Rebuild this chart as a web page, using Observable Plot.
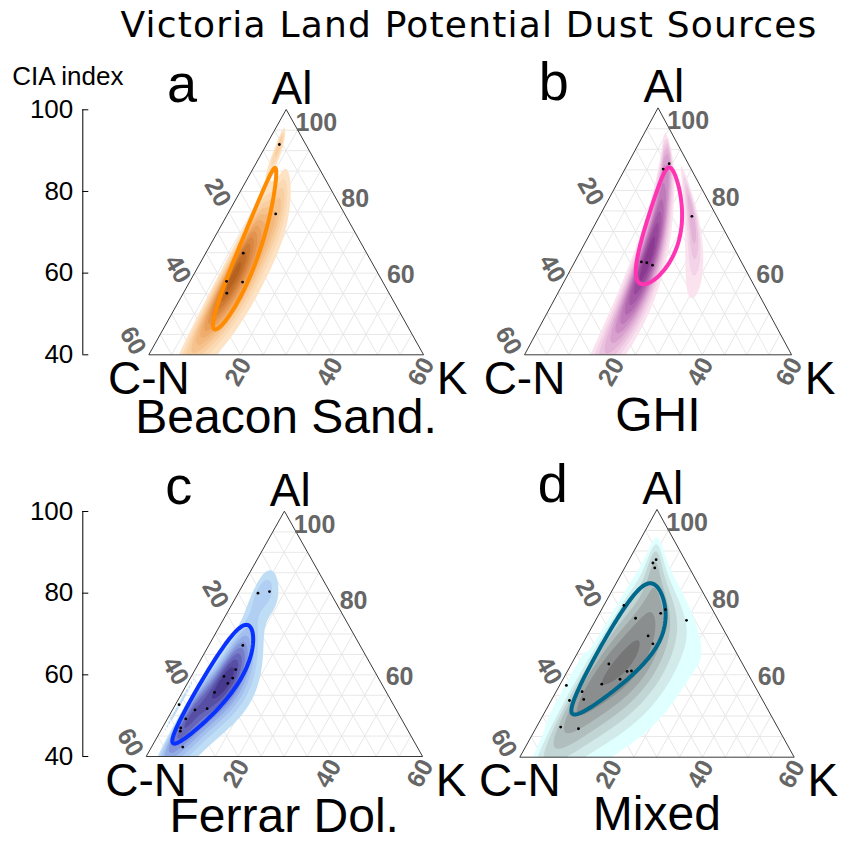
<!DOCTYPE html>
<html><head><meta charset="utf-8">
<script src="https://cdn.jsdelivr.net/npm/d3@7"></script>
<script src="https://cdn.jsdelivr.net/npm/@observablehq/plot@0.6"></script>
<style>
body{margin:0;background:#fff;}
#page{position:relative;width:843px;height:841px;overflow:hidden;background:#fff;}
#title{position:absolute;left:0;top:7px;width:938px;text-align:center;font-family:"DejaVu Sans",sans-serif;font-size:36px;line-height:36px;letter-spacing:1.2px;color:#000;white-space:nowrap;}
#page svg{position:absolute;left:0;top:0;}
</style></head><body>
<div id="page"><div id="title">Victoria Land Potential Dust Sources</div></div>
<script>
// ---------------- data (compositions in %, Al + C-N + K = 100) ----------------
const beaconAl = [91.5, 74.5, 64.9, 58.0, 57.8, 55.1];
const beaconCN = [5.7, 15.0, 26.9, 34.0, 30.6, 35.4];
const beaconK  = [2.8, 10.5, 8.2, 8.0, 11.6, 9.5];

const ghiAl = [86.5, 85.2, 73.7, 62.6, 62.4, 61.8];
const ghiCN = [4.2, 6.2, 5.5, 22.4, 21.3, 20.3];
const ghiK  = [9.3, 8.6, 20.8, 15.0, 16.3, 17.9];

const ferrarAl = [80.0, 80.4, 67.2, 61.3, 59.6, 59.2, 57.9, 55.7, 51.7, 51.4, 52.7, 49.2, 47.0, 46.2, 42.3];
const ferrarCN = [15.7, 13.0, 25.4, 29.9, 33.3, 31.6, 33.3, 37.3, 40.9, 43.7, 46.5, 46.8, 49.0, 49.5, 50.9];
const ferrarK  = [4.3, 6.6, 7.4, 8.8, 7.1, 9.2, 8.8, 7.0, 7.4, 4.9, 0.8, 4.0, 4.0, 4.3, 6.8];

const mixedAl = [87.1, 87.9, 85.9, 76.8, 75.8, 74.9, 73.7, 73.2, 69.4, 67.5, 62.6, 60.8, 60.9, 58.9, 57.7, 55.9, 57.4, 54.0, 53.75, 47.3, 46.9];
const mixedCN = [7.3, 6.2, 7.5, 18.8, 10.2, 11.7, 17.8, 6.9, 17.2, 17.1, 29.2, 26.1, 25.1, 28.6, 33.2, 38.4, 41.1, 39.0, 42.25, 47.4, 43.7];
const mixedK  = [5.6, 5.9, 6.6, 4.4, 14.0, 13.4, 8.5, 19.9, 13.4, 15.4, 8.2, 13.1, 14.0, 12.5, 9.1, 5.7, 1.5, 7.0, 4.0, 5.3, 9.4];

const panelNames   = ["Beacon Sand.", "GHI", "Ferrar Dol.", "Mixed"];
const panelLetters = ["a", "b", "c", "d"];
const vertexNames  = {top: "Al", left: "C-N", right: "K"};
const yAxisLabel = "CIA index";
const alTicks = [60, 80, 100];
const cnTicks = [20, 40, 60];
const kTicks  = [20, 40, 60];
const ciaTicks = [40, 60, 80, 100];
const gridSteps = [5, 10, 15, 20, 25, 30, 35, 40, 45, 50, 55];
const alMin = 40;            // zoomed ternary: Al 40-100, C-N 0-60, K 0-60
const confidenceLevel = 0.5; // ellipse in ilr space
const bandwidthScale = 1.1;

// ---------------- styles ----------------
const palettes = [
  {ramp: ["#fde3c4", "#f6bd82", "#e58f45", "#b5611f"], ellipse: "#ff8c00"},
  {ramp: ["#fae2ef", "#e3afd5", "#b66ab3", "#8a3a90"], ellipse: "#ff34b3"},
  {ramp: ["#bfdef6", "#9ab8ec", "#6f73c9", "#47398e"], ellipse: "#0a32ff"},
  {ramp: ["#e0ffff", "#c4d6d6", "#9ea6a6", "#767676"], ellipse: "#00688b"}
];
const layout = [
  {left: 148.3, right: 422.7, top: 109.3, bottom: 354.3, axisX: 82.3, axisLabel: true, captionDy: 78},
  {left: 524.0, right: 790.7, top: 107.7, bottom: 354.3, captionDy: 76},
  {left: 145.7, right: 421.7, top: 511.0, bottom: 756.0, axisX: 82.3, axisLabel: false, captionDy: 75},
  {left: 519.3, right: 793.3, top: 509.3, bottom: 756.7, captionDy: 73}
];
const sans = "Liberation Sans, Arial, Helvetica, sans-serif";
const alLabelDy = [2, 7.5, 13];
const cnLabelNudge = [[-22.7, 1.2], [-16.8, -3.9], [-16, -14]];

// ---------------- ternary helpers ----------------
const S2 = Math.SQRT2, S6 = Math.sqrt(6);
const span = 100 - alMin;
function xy(d) { return {x: (d.k - d.c) / 2, y: d.a}; }
function ilr(c, a, k) {
  const lx = Math.log(c), ly = Math.log(a), lz = Math.log(k);
  return [(ly - lx) / S2, (2 * lz - lx - ly) / S6];
}
function ilrInv(z1, z2) {
  const cx = -z1 / S2 - z2 / S6, cy = z1 / S2 - z2 / S6, cz = 2 * z2 / S6;
  const ex = Math.exp(cx), ey = Math.exp(cy), ez = Math.exp(cz), s = ex + ey + ez;
  return {c: 100 * ex / s, a: 100 * ey / s, k: 100 * ez / s};
}
function bwNrd(v) {
  const s = d3.sort(v);
  const iqr = d3.quantileSorted(s, 0.75) - d3.quantileSorted(s, 0.25);
  return 4 * 1.06 * Math.min(d3.deviation(v), iqr / 1.34) * Math.pow(v.length, -0.2);
}
function expandRange(v, m) {
  const [lo, hi] = d3.extent(v), w = hi - lo;
  return [lo - m * w, hi + m * w];
}

const vTop = {c: 0, a: 100, k: 0}, vLeft = {c: span, a: alMin, k: 0}, vRight = {c: 0, a: alMin, k: span};
const triangle = [vTop, vLeft, vRight].map(xy);
const gridSegs = [];
function seg(p, q) { const P = xy(p), Q = xy(q); gridSegs.push({x1: P.x, y1: P.y, x2: Q.x, y2: Q.y}); }
for (const g of gridSteps) {
  const a = alMin + g;
  seg({c: 100 - a, a, k: 0}, {c: 0, a, k: 100 - a});
  seg({c: g, a: 100 - g, k: 0}, {c: g, a: alMin, k: span - g});
  seg({c: 0, a: 100 - g, k: g}, {c: span - g, a: alMin, k: g});
}

const panelData = [
  {al: beaconAl, cn: beaconCN, k: beaconK},
  {al: ghiAl, cn: ghiCN, k: ghiK},
  {al: ferrarAl, cn: ferrarCN, k: ferrarK},
  {al: mixedAl, cn: mixedCN, k: mixedK}
];

function makePanel(idx) {
  const D = panelData[idx], P = palettes[idx], L = layout[idx];
  const pts = D.al.map((a, i) => ({a, c: D.cn[i], k: D.k[i]}));
  const Z = pts.map(d => ilr(d.c, d.a, d.k));
  const u = Z.map(z => z[0]), v = Z.map(z => z[1]), n = u.length;
  const h1 = bandwidthScale * bwNrd(u) / 4, h2 = bandwidthScale * bwNrd(v) / 4;
  const lim1 = expandRange(u, 1), lim2 = expandRange(v, 1);
  const norm = 1 / (n * 2 * Math.PI * h1 * h2);
  function kde(p, q) {
    let s = 0;
    for (let i = 0; i < n; i++) {
      const du = (p - u[i]) / h1, dv = (q - v[i]) / h2;
      s += Math.exp(-0.5 * (du * du + dv * dv));
    }
    return s * norm;
  }
  function density(x, y) {
    const a = y, c = (100 - a) / 2 - x, k = (100 - a) / 2 + x;
    if (a < alMin || c <= 0 || k <= 0) return 0;
    const z = ilr(c, a, k);
    return kde(z[0], z[1]);
  }
  let zmax = 0;
  for (let i = 0; i < 100; i++) for (let j = 0; j < 100; j++) {
    zmax = Math.max(zmax, kde(lim1[0] + i * (lim1[1] - lim1[0]) / 99, lim2[0] + j * (lim2[1] - lim2[0]) / 99));
  }
  const thresholds = d3.ticks(0, zmax, 10).filter(t => t > 0);

  // confidence ellipse (Mahalanobis, ilr space)
  const m1 = d3.mean(u), m2 = d3.mean(v);
  const s11 = d3.variance(u), s22 = d3.variance(v);
  const s12 = d3.sum(u, (x, i) => (x - m1) * (v[i] - m2)) / (n - 1);
  const l11 = Math.sqrt(s11), l21 = s12 / l11, l22 = Math.sqrt(Math.max(s22 - l21 * l21, 1e-12));
  const r = Math.sqrt(-2 * Math.log(1 - confidenceLevel));
  const ellipse = d3.range(0, 360, 2).map(deg => {
    const t = deg * Math.PI / 180, ct = Math.cos(t), st = Math.sin(t);
    return xy(ilrInv(m1 + r * l11 * ct, m2 + r * (l21 * ct + l22 * st)));
  });

  const T = xy(vTop), Lv = xy(vLeft), R = xy(vRight);
  const baseMid = xy({c: span / 2, a: alMin, k: span / 2});
  const hasAxis = L.axisX !== undefined;
  const marginLeft = hasAxis ? L.axisX : L.left;
  const marginRight = 843 - L.right;

  const marks = [
    Plot.link(gridSegs, {x1: "x1", y1: "y1", x2: "x2", y2: "y2", stroke: "#e8e8e8", strokeWidth: 1}),
    Plot.contour({fill: density, x1: -span / 2, x2: span / 2, y1: alMin, y2: 100, thresholds, stroke: "none"}),
    Plot.line(triangle, {x: "x", y: "y", curve: "linear-closed", stroke: "#3a3a3a", strokeWidth: 1}),
    Plot.line(ellipse, {x: "x", y: "y", curve: "linear-closed", stroke: P.ellipse, strokeWidth: 4}),
    Plot.dot(pts.map(xy), {x: "x", y: "y", r: 1.4, fill: "black"}),
    // vertex labels
    Plot.text([{...T, t: vertexNames.top}], {x: "x", y: "y", text: "t", fontSize: 46, fontFamily: sans, dx: 6, dy: -6, lineAnchor: "bottom"}),
    Plot.text([{...Lv, t: vertexNames.left}], {x: "x", y: "y", text: "t", fontSize: 46, fontFamily: sans, dy: 39, lineAnchor: "bottom"}),
    Plot.text([{...R, t: vertexNames.right}], {x: "x", y: "y", text: "t", fontSize: 46, fontFamily: sans, dx: 29, dy: 39, lineAnchor: "bottom"}),
    Plot.text([{...baseMid, t: panelNames[idx]}], {x: "x", y: "y", text: "t", fontSize: 48, fontFamily: sans, dy: L.captionDy, lineAnchor: "bottom"}),
    Plot.text([{...T, t: panelLetters[idx]}], {x: "x", y: "y", text: "t", fontSize: 54, fontFamily: sans, dx: -119, dy: -8, textAnchor: "start", lineAnchor: "bottom"}),
    // ternary tick labels
    ...alTicks.map((tv, i) => Plot.text([{...xy({c: 0, a: tv, k: 100 - tv}), t: String(tv)}],
      {x: "x", y: "y", text: "t", fontSize: 25, fontWeight: "bold", fontFamily: sans, fill: "#666", textAnchor: "start", dx: 9.5, dy: alLabelDy[i]})),
    ...cnTicks.map((tv, i) => Plot.text([{...xy({c: tv, a: 100 - tv, k: 0}), t: String(tv)}],
      {x: "x", y: "y", text: "t", fontSize: 25, fontWeight: "bold", fontFamily: sans, fill: "#666", rotate: 60, dx: cnLabelNudge[i][0], dy: cnLabelNudge[i][1]})),
    Plot.text(kTicks.map(tv => ({...xy({c: span - tv, a: alMin, k: tv}), t: String(tv)})),
      {x: "x", y: "y", text: "t", fontSize: 25, fontWeight: "bold", fontFamily: sans, fill: "#666", rotate: -60, dx: -2, dy: 17})
  ];
  if (hasAxis) {
    const frameW = 843 - marginRight - marginLeft;
    const axisDataX = -span / 2 + (L.axisX - L.left) / (L.right - L.left) * span;
    marks.push(
      Plot.ruleX([axisDataX], {y1: alMin, y2: 100, stroke: "black", strokeWidth: 1}),
      Plot.tickY(ciaTicks, {y: d => d, insetRight: frameW - 6, stroke: "black", strokeWidth: 1}),
      Plot.axisY({ticks: ciaTicks, tickSize: 0, tickPadding: 9.5, fontSize: 26, fontFamily: sans, label: null})
    );
    if (L.axisLabel) marks.push(
      Plot.text([yAxisLabel], {frameAnchor: "top-left", dx: 11.7 - L.axisX, dy: -24.5, textAnchor: "start", lineAnchor: "bottom", fontSize: 26, fontFamily: sans})
    );
  }
  return Plot.plot({
    width: 843, height: 841,
    marginLeft, marginRight, marginTop: L.top, marginBottom: 841 - L.bottom,
    x: {domain: [-span / 2, span / 2], range: [L.left, L.right], axis: null},
    y: {domain: [alMin, 100], range: [L.bottom, L.top], axis: null},
    color: {type: "linear", interpolate: d3.interpolateRgbBasis(P.ramp)},
    style: {background: "transparent", overflow: "visible", fontFamily: sans, color: "black"},
    marks
  });
}

const page = document.getElementById("page");
for (let i = 0; i < 4; i++) page.appendChild(makePanel(i));
</script>
</body></html>
